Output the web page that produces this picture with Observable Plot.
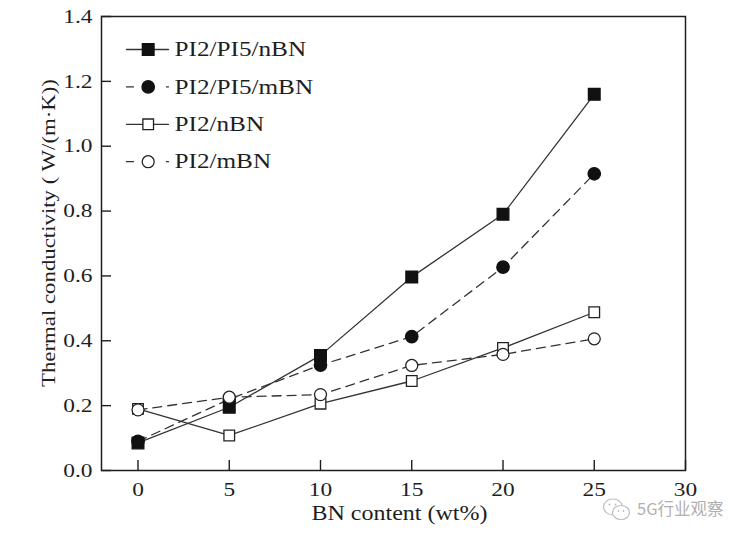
<!DOCTYPE html>
<html>
<head>
<meta charset="utf-8">
<script src="https://cdn.jsdelivr.net/npm/d3@7"></script>
<script src="https://cdn.jsdelivr.net/npm/@observablehq/plot@0.6"></script>
<style>
  body { margin: 0; background: #fff; }
  #wrap { position: relative; width: 755px; height: 541px; overflow: hidden; }
  #wm { position: absolute; left: 637px; top: 501px; font-family: "Noto Sans CJK SC", sans-serif; font-size: 16.5px; line-height: 15px; color: #b0b0b0; white-space: nowrap; }
  #wmicon { position: absolute; left: 602px; top: 497px; }
</style>
</head>
<body>
<div id="wrap">
  <svg id="wmicon" width="30" height="26" viewBox="0 0 30 26">
    <ellipse cx="11" cy="10" rx="9.5" ry="8" fill="none" stroke="#bdbdbd" stroke-width="1.2"/>
    <ellipse cx="19" cy="15.5" rx="8.5" ry="7" fill="#fff" stroke="#bdbdbd" stroke-width="1.2"/>
    <circle cx="7.5" cy="7.5" r="1" fill="#bdbdbd"/>
    <circle cx="13.5" cy="7.5" r="1" fill="#bdbdbd"/>
    <circle cx="16.5" cy="14" r="0.9" fill="#bdbdbd"/>
    <circle cx="21.5" cy="14" r="0.9" fill="#bdbdbd"/>
  </svg>
  <div id="wm">5G行业观察</div>
</div>
<script>
// ---------- data ----------
const bnContent = [0, 5, 10, 15, 20, 25];
const seriesNames = ["PI2/PI5/nBN", "PI2/PI5/mBN", "PI2/nBN", "PI2/mBN"];
const pi2pi5nBN = [0.085, 0.195, 0.355, 0.597, 0.790, 1.160];
const pi2pi5mBN = [0.090, 0.220, 0.325, 0.413, 0.627, 0.915];
const pi2nBN    = [0.190, 0.108, 0.206, 0.276, 0.378, 0.488];
const pi2mBN    = [0.187, 0.226, 0.234, 0.324, 0.358, 0.406];
const xTicks = [0, 5, 10, 15, 20, 25, 30];
const yTicks = [0, 0.2, 0.4, 0.6, 0.8, 1.0, 1.2, 1.4];
const xTitle = "BN content (wt%)";
const yTitle = "Thermal conductivity ( W/(m\u00B7K))";

// ---------- layout ----------
const W = 755, H = 541, ML = 101, MR = 70, MT = 16, MB = 71;
const xDom = [-2, 30], yDom = [0, 1.4];
const invX = px => xDom[0] + (px - ML) / (W - ML - MR) * (xDom[1] - xDom[0]);
const invY = py => yDom[0] + (H - MB - py) / (H - MB - MT) * (yDom[1] - yDom[0]);
const pxX = d => d * (xDom[1] - xDom[0]) / (W - ML - MR);
const pxY = d => d * (yDom[1] - yDom[0]) / (H - MB - MT);

const seriesValues = [pi2pi5nBN, pi2pi5mBN, pi2nBN, pi2mBN];
const table = seriesNames.flatMap((name, i) =>
  bnContent.map((x, j) => ({name, i, x, y: seriesValues[i][j]})));
const bySeries = i => table.filter(d => d.i === i);

const ink = "#1e1e1e";
const lineCol = "#333";
const dash = "9,6";
const markerSpec = [
  {symbol: "square", fill: "#111", stroke: "#111", r: 6.6},
  {symbol: "circle", fill: "#111", stroke: "#111", r: 6.2},
  {symbol: "square", fill: "#fff", stroke: "#222", r: 6.0},
  {symbol: "circle", fill: "#fff", stroke: "#222", r: 6.0}
];
const dashedSeries = [false, true, false, true];

// legend rows (layout)
const legendRowsY = [49, 86.4, 123.8, 161.2];
const legendRows = seriesNames.map((name, i) => ({name, i, y: invY(legendRowsY[i])}));
const legendSeg = legendRows.flatMap(r => [{...r, x: invX(126)}, {...r, x: invX(168)}]);

const marks = [
  Plot.frame({stroke: ink, strokeWidth: 1.5}),
  Plot.ruleX(xTicks, {x: d => d, y1: yDom[0], y2: yDom[0] + pxY(10), stroke: ink, strokeWidth: 1.4}),
  Plot.ruleY(yTicks, {y: d => d, x1: xDom[0], x2: xDom[0] + pxX(10), stroke: ink, strokeWidth: 1.4}),
  Plot.axisX({ticks: xTicks, tickSize: 0, tickPadding: 12, fontSize: 19.5, label: null, tickFormat: d => String(d)}),
  Plot.axisY({ticks: yTicks, tickSize: 0, tickPadding: 9, fontSize: 19.5, label: null, tickFormat: d => d.toFixed(1)}),
  Plot.text([xTitle], {frameAnchor: "bottom", textAnchor: "middle", dx: 6, dy: 43, fontSize: 20, lineAnchor: "middle", fill: ink}),
  Plot.text([yTitle], {frameAnchor: "left", textAnchor: "middle", rotate: -90, dx: -53, dy: -10.5, fontSize: 19, lineAnchor: "middle", fill: ink})
];

// data lines
for (let i = 0; i < 4; i++) {
  marks.push(Plot.line(bySeries(i), {x: "x", y: "y", stroke: lineCol, strokeWidth: 1.3,
    strokeDasharray: dashedSeries[i] ? dash : null}));
}
// legend lines
for (let i = 0; i < 4; i++) {
  marks.push(Plot.line(legendSeg.filter(d => d.i === i), {x: "x", y: "y", stroke: lineCol, strokeWidth: 1.3,
    strokeDasharray: dashedSeries[i] ? "7,33,2" : null}));
}
// markers (data + legend)
for (let i = 0; i < 4; i++) {
  const m = markerSpec[i];
  marks.push(Plot.dot(bySeries(i), {x: "x", y: "y", symbol: m.symbol, r: m.r, fill: m.fill, stroke: m.stroke, strokeWidth: 1.3}));
  marks.push(Plot.dot(legendRows.filter(d => d.i === i), {x: invX(147.7), y: "y", symbol: m.symbol, r: m.r, fill: m.fill, stroke: m.stroke, strokeWidth: 1.3}));
}
marks.push(Plot.text(legendRows, {x: invX(174), y: "y", text: "name", textAnchor: "start", lineAnchor: "middle", fontSize: 21, fill: ink}));

const chart = Plot.plot({
  width: W, height: H,
  marginLeft: ML, marginRight: MR, marginTop: MT, marginBottom: MB,
  x: {domain: xDom},
  y: {domain: yDom},
  style: {fontFamily: "'Liberation Serif', 'Times New Roman', serif", color: ink, background: "transparent", overflow: "visible"},
  marks
});
document.getElementById("wrap").prepend(chart);

// the reference font is drawn wide: stretch glyphs along the text direction,
// keeping each text's anchor point where it was
const STRETCH = 1.2;
chart.querySelectorAll("text").forEach(t => {
  const len = t.getComputedTextLength();
  if (!(len > 0)) return;
  const b0 = t.getBBox();
  t.setAttribute("textLength", (len * STRETCH).toFixed(2));
  t.setAttribute("lengthAdjust", "spacingAndGlyphs");
  const b1 = t.getBBox();
  const anchor = getComputedStyle(t).textAnchor;
  let want, got;
  if (anchor === "end") { want = b0.x + b0.width; got = b1.x + b1.width; }
  else if (anchor === "middle") { want = b0.x + b0.width / 2; got = b1.x + b1.width / 2; }
  else { want = b0.x; got = b1.x; }
  const shift = want - got;
  if (Math.abs(shift) > 0.2) {
    const dx0 = parseFloat(t.getAttribute("dx") || "0") || 0;
    t.setAttribute("dx", (dx0 + shift).toFixed(2));
  }
});
</script>
</body>
</html>
